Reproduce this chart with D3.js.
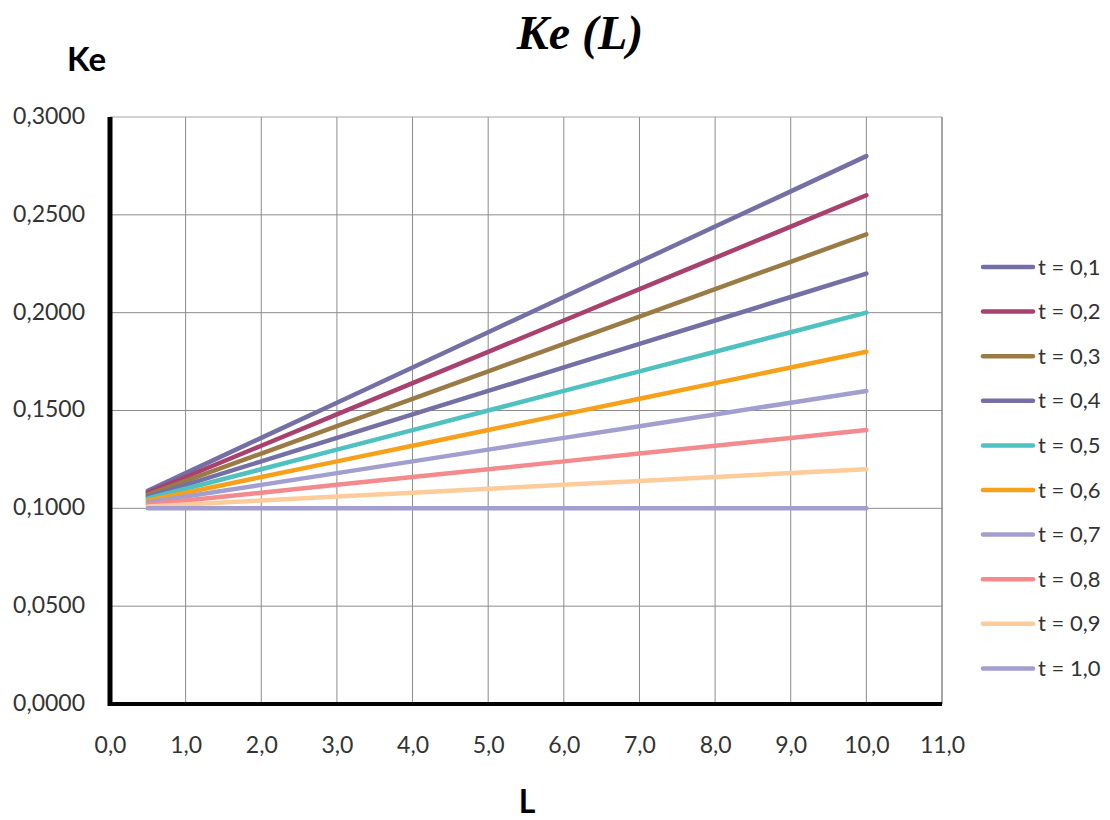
<!DOCTYPE html>
<html><head><meta charset="utf-8">
<script src="https://cdn.jsdelivr.net/npm/d3@7"></script>
<style>body{margin:0;background:#fff}svg{display:block}</style>
</head><body>
<script>
const Ls = [0.5, 1, 2, 3, 4, 5, 6, 7, 8, 9, 10];
const seriesNames = ["t = 0,1","t = 0,2","t = 0,3","t = 0,4","t = 0,5","t = 0,6","t = 0,7","t = 0,8","t = 0,9","t = 1,0"];
const t01 = [0.109,0.118,0.136,0.154,0.172,0.190,0.208,0.226,0.244,0.262,0.280];
const t02 = [0.108,0.116,0.132,0.148,0.164,0.180,0.196,0.212,0.228,0.244,0.260];
const t03 = [0.107,0.114,0.128,0.142,0.156,0.170,0.184,0.198,0.212,0.226,0.240];
const t04 = [0.106,0.112,0.124,0.136,0.148,0.160,0.172,0.184,0.196,0.208,0.220];
const t05 = [0.105,0.110,0.120,0.130,0.140,0.150,0.160,0.170,0.180,0.190,0.200];
const t06 = [0.104,0.108,0.116,0.124,0.132,0.140,0.148,0.156,0.164,0.172,0.180];
const t07 = [0.103,0.106,0.112,0.118,0.124,0.130,0.136,0.142,0.148,0.154,0.160];
const t08 = [0.102,0.104,0.108,0.112,0.116,0.120,0.124,0.128,0.132,0.136,0.140];
const t09 = [0.101,0.102,0.104,0.106,0.108,0.110,0.112,0.114,0.116,0.118,0.120];
const t10 = [0.100,0.100,0.100,0.100,0.100,0.100,0.100,0.100,0.100,0.100,0.100];
const seriesValues = [t01,t02,t03,t04,t05,t06,t07,t08,t09,t10];
const colors = ["#7470a6","#a8416e","#9b7b45","#7470a6","#4fc1c1","#f7a11b","#a29ecf","#f38a8d","#fdcc9a","#a29ecf"];
const xTicks = [0,1,2,3,4,5,6,7,8,9,10,11];
const yTicks = [0,0.05,0.1,0.15,0.2,0.25,0.3];

const W=1110,H=820;
const svg=d3.select("body").append("svg").attr("width",W).attr("height",H);
const x=d3.scaleLinear().domain([0,11]).range([110,942]);
const y=d3.scaleLinear().domain([0,0.3]).range([704,117]);
const font="Lato, 'Open Sans', sans-serif";
const textCol="#333";

// grid
svg.append("g").selectAll("line.v").data(xTicks.slice(1)).join("line")
  .attr("x1",d=>x(d)).attr("x2",d=>x(d)).attr("y1",y(0.3)).attr("y2",y(0))
  .attr("stroke",d=>d===11?"#a6a6a6":"#8c8c8c").attr("stroke-width",d=>d===11?2:1);
svg.append("g").selectAll("line.h").data(yTicks.slice(1)).join("line")
  .attr("x1",x(0)).attr("x2",x(11)).attr("y1",d=>y(d)).attr("y2",d=>y(d))
  .attr("stroke",d=>d===0.3?"#a6a6a6":"#8c8c8c").attr("stroke-width",1);

// axes
const fmtX=d=>d3.format(".1f")(d).replace(".",",");
const fmtY=d=>d3.format(".4f")(d).replace(".",",");
const xAxis=svg.append("g").attr("transform",`translate(0,${y(0)})`)
  .call(d3.axisBottom(x).tickValues(xTicks).tickSize(0).tickPadding(33).tickFormat(fmtX));
xAxis.select(".domain").remove();
xAxis.selectAll("text").attr("font-family",font).attr("font-size",23).attr("fill",textCol);
const yAxis=svg.append("g").attr("transform",`translate(${x(0)},0)`)
  .call(d3.axisLeft(y).tickValues(yTicks).tickSize(0).tickPadding(25).tickFormat(fmtY));
yAxis.select(".domain").remove();
yAxis.selectAll("text").attr("font-family",font).attr("font-size",23).attr("fill",textCol).attr("dy","0.28em");

// series lines
const line=d3.line().x((d,i)=>x(Ls[i])).y(d=>y(d));
svg.append("g").selectAll("path").data(seriesValues).join("path")
  .attr("d",d=>line(d)).attr("fill","none")
  .attr("stroke",(d,i)=>colors[i]).attr("stroke-width",4.5).attr("stroke-linecap","round");

// thick axis lines
svg.append("line").attr("x1",x(0)).attr("x2",x(0)).attr("y1",y(0.3)).attr("y2",y(0)+2)
  .attr("stroke","#000").attr("stroke-width",5);
svg.append("line").attr("x1",x(0)-2).attr("x2",x(11)).attr("y1",y(0)).attr("y2",y(0))
  .attr("stroke","#000").attr("stroke-width",4);

// titles
svg.append("text").attr("x",580).attr("y",49).attr("text-anchor","middle")
  .attr("font-family","'Liberation Serif', 'Times New Roman', serif").attr("font-weight","bold")
  .attr("font-style","italic").attr("font-size",48).text("Ke (L)");
svg.append("text").attr("x",86.5).attr("y",71).attr("text-anchor","middle")
  .attr("font-family",font).attr("font-weight","bold").attr("font-size",33).text("Ke");
svg.append("text").attr("x",527).attr("y",813).attr("text-anchor","middle")
  .attr("font-family",font).attr("font-weight","bold").attr("font-size",32).text("L");

// legend
const leg=svg.append("g").selectAll("g").data(seriesNames).join("g")
  .attr("transform",(d,i)=>`translate(0,${267+i*44.6})`);
leg.append("line").attr("x1",983).attr("x2",1033).attr("y1",0).attr("y2",0)
  .attr("stroke",(d,i)=>colors[i]).attr("stroke-width",4.5).attr("stroke-linecap","round");
leg.append("text").attr("x",1038).attr("y",7.5).attr("font-family",font).attr("font-size",22)
  .attr("fill",textCol).text(d=>d);
</script>
</body></html>
